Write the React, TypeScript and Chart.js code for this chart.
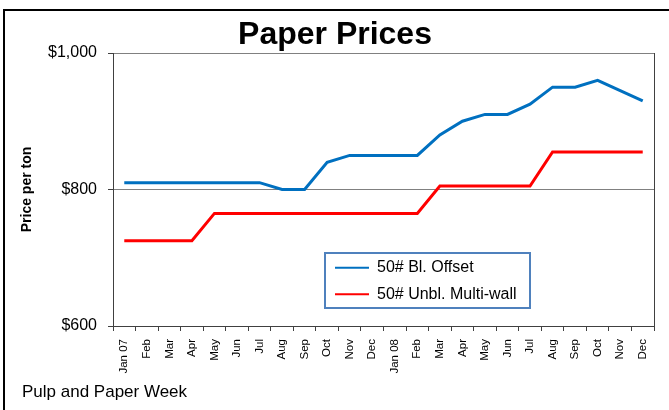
import React, { useEffect, useRef } from "react";
import { Chart, registerables } from "chart.js";

Chart.register(...registerables);

const categories = [
  "Jan 07", "Feb", "Mar", "Apr", "May", "Jun", "Jul", "Aug", "Sep", "Oct", "Nov", "Dec",
  "Jan 08", "Feb", "Mar", "Apr", "May", "Jun", "Jul", "Aug", "Sep", "Oct", "Nov", "Dec",
];
const offsetPrices = [
  810, 810, 810, 810, 810, 810, 810, 800, 800, 840, 850, 850,
  850, 850, 880, 900, 910, 910, 925, 950, 950, 960, 945, 930,
];
const multiwallPrices = [
  725, 725, 725, 725, 765, 765, 765, 765, 765, 765, 765, 765,
  765, 765, 805, 805, 805, 805, 805, 855, 855, 855, 855, 855,
];
const yTicks = [600, 800, 1000];
const seriesNames = ["50# Bl. Offset", "50# Unbl. Multi-wall"];
const titleText = "Paper Prices";
const yTitleText = "Price per ton";
const sourceText = "Pulp and Paper Week";

const FONT = "'Liberation Sans', Arial, sans-serif";

const decorPlugin = {
  id: "decor",
  beforeDraw(chart: any) {
    const ctx = chart.ctx;
    ctx.save();
    ctx.fillStyle = "#ffffff";
    ctx.fillRect(0, 0, chart.width, chart.height);
    ctx.strokeStyle = "#000000";
    ctx.lineWidth = 2;
    ctx.strokeRect(4, 10, chart.width + 20, chart.height + 20);
    ctx.restore();
  },
  afterLayout(chart: any) {
    const lg = chart.legend;
    if (lg) {
      lg.left = 324.4;
      lg.top = 249.1;
      lg.right = 545;
      lg.bottom = 330;
      lg.width = lg.right - lg.left;
      lg.height = lg.bottom - lg.top;
    }
  },
  afterDraw(chart: any) {
    const ctx = chart.ctx;
    const a = chart.chartArea;
    ctx.save();
    ctx.strokeStyle = "#404040";
    ctx.lineWidth = 1;
    ctx.beginPath();
    ctx.moveTo(Math.round(a.right) + 0.5, a.top);
    ctx.lineTo(Math.round(a.right) + 0.5, a.bottom);
    ctx.stroke();
    ctx.strokeStyle = "#4F81BD";
    ctx.lineWidth = 2;
    ctx.strokeRect(325, 253, 205, 55);
    ctx.fillStyle = "#000000";
    ctx.font = `bold 32px ${FONT}`;
    ctx.textAlign = "center";
    ctx.textBaseline = "alphabetic";
    ctx.fillText(titleText, 335, 44);
    ctx.font = `17px ${FONT}`;
    ctx.textAlign = "left";
    ctx.fillText(sourceText, 22, 397);
    ctx.restore();
  },
};

export default function App() {
  const ref = useRef<HTMLCanvasElement | null>(null);
  useEffect(() => {
    if (!ref.current) return;
    const chart = new Chart(ref.current, {
      type: "line",
      data: {
        labels: categories,
        datasets: [
          {
            label: seriesNames[0],
            data: offsetPrices,
            borderColor: "#0070C0",
            backgroundColor: "#0070C0",
            borderWidth: 3,
            pointRadius: 0,
            tension: 0,
            fill: false,
          },
          {
            label: seriesNames[1],
            data: multiwallPrices,
            borderColor: "#FF0000",
            backgroundColor: "#FF0000",
            borderWidth: 3,
            pointRadius: 0,
            tension: 0,
            fill: false,
          },
        ],
      },
      options: {
        responsive: false,
        animation: false,
        devicePixelRatio: 1,
        layout: { padding: { left: 0, top: 53, right: 15, bottom: 0 } },
        plugins: {
          title: { display: false },
          tooltip: { enabled: false },
          legend: {
            display: true,
            position: "chartArea" as any,
            align: "start",
            labels: {
              usePointStyle: true,
              pointStyle: "line",
              pointStyleWidth: 34,
              padding: 10.6,
              color: "#000000",
              font: { family: FONT, size: 16 },
              generateLabels(chart: any) {
                const items = Chart.defaults.plugins.legend.labels.generateLabels(chart);
                return items.map((it: any) => ({ ...it, lineWidth: 2, pointStyle: "line" }));
              },
            },
          },
        },
        scales: {
          x: {
            type: "category",
            offset: true,
            grid: {
              display: true,
              offset: true,
              drawOnChartArea: false,
              drawTicks: true,
              tickLength: 5,
              color: "#404040",
            },
            border: { display: true, color: "#404040", width: 1 },
            ticks: {
              autoSkip: false,
              minRotation: 90,
              maxRotation: 90,
              padding: 8,
              color: "#000000",
              font: { family: FONT, size: 11.5 },
            },
            afterFit(scale: any) {
              scale.height = 84;
            },
          },
          y: {
            type: "linear",
            min: 600,
            max: 1000,
            afterBuildTicks(scale: any) {
              scale.ticks = yTicks.map((v) => ({ value: v }));
            },
            grid: {
              display: true,
              color: "#808080",
              drawTicks: true,
              tickLength: 5,
              tickColor: "#404040",
            },
            border: { display: true, color: "#404040", width: 1 },
            ticks: {
              padding: 11,
              color: "#000000",
              font: { family: FONT, size: 16 },
              callback: (v: any) => "$" + Number(v).toLocaleString("en-US"),
            },
            title: {
              display: true,
              text: yTitleText,
              color: "#000000",
              font: { family: FONT, size: 14, weight: "bold" },
              padding: { top: 19, bottom: 0 },
            },
            afterFit(scale: any) {
              scale.width = 113;
            },
          },
        },
      },
      plugins: [decorPlugin],
    });
    return () => chart.destroy();
  }, []);
  return (
    <div style={{ position: "fixed", left: 0, top: 0, width: 669, height: 410 }}>
      <canvas ref={ref} width={669} height={410} style={{ display: "block" }} />
    </div>
  );
}
